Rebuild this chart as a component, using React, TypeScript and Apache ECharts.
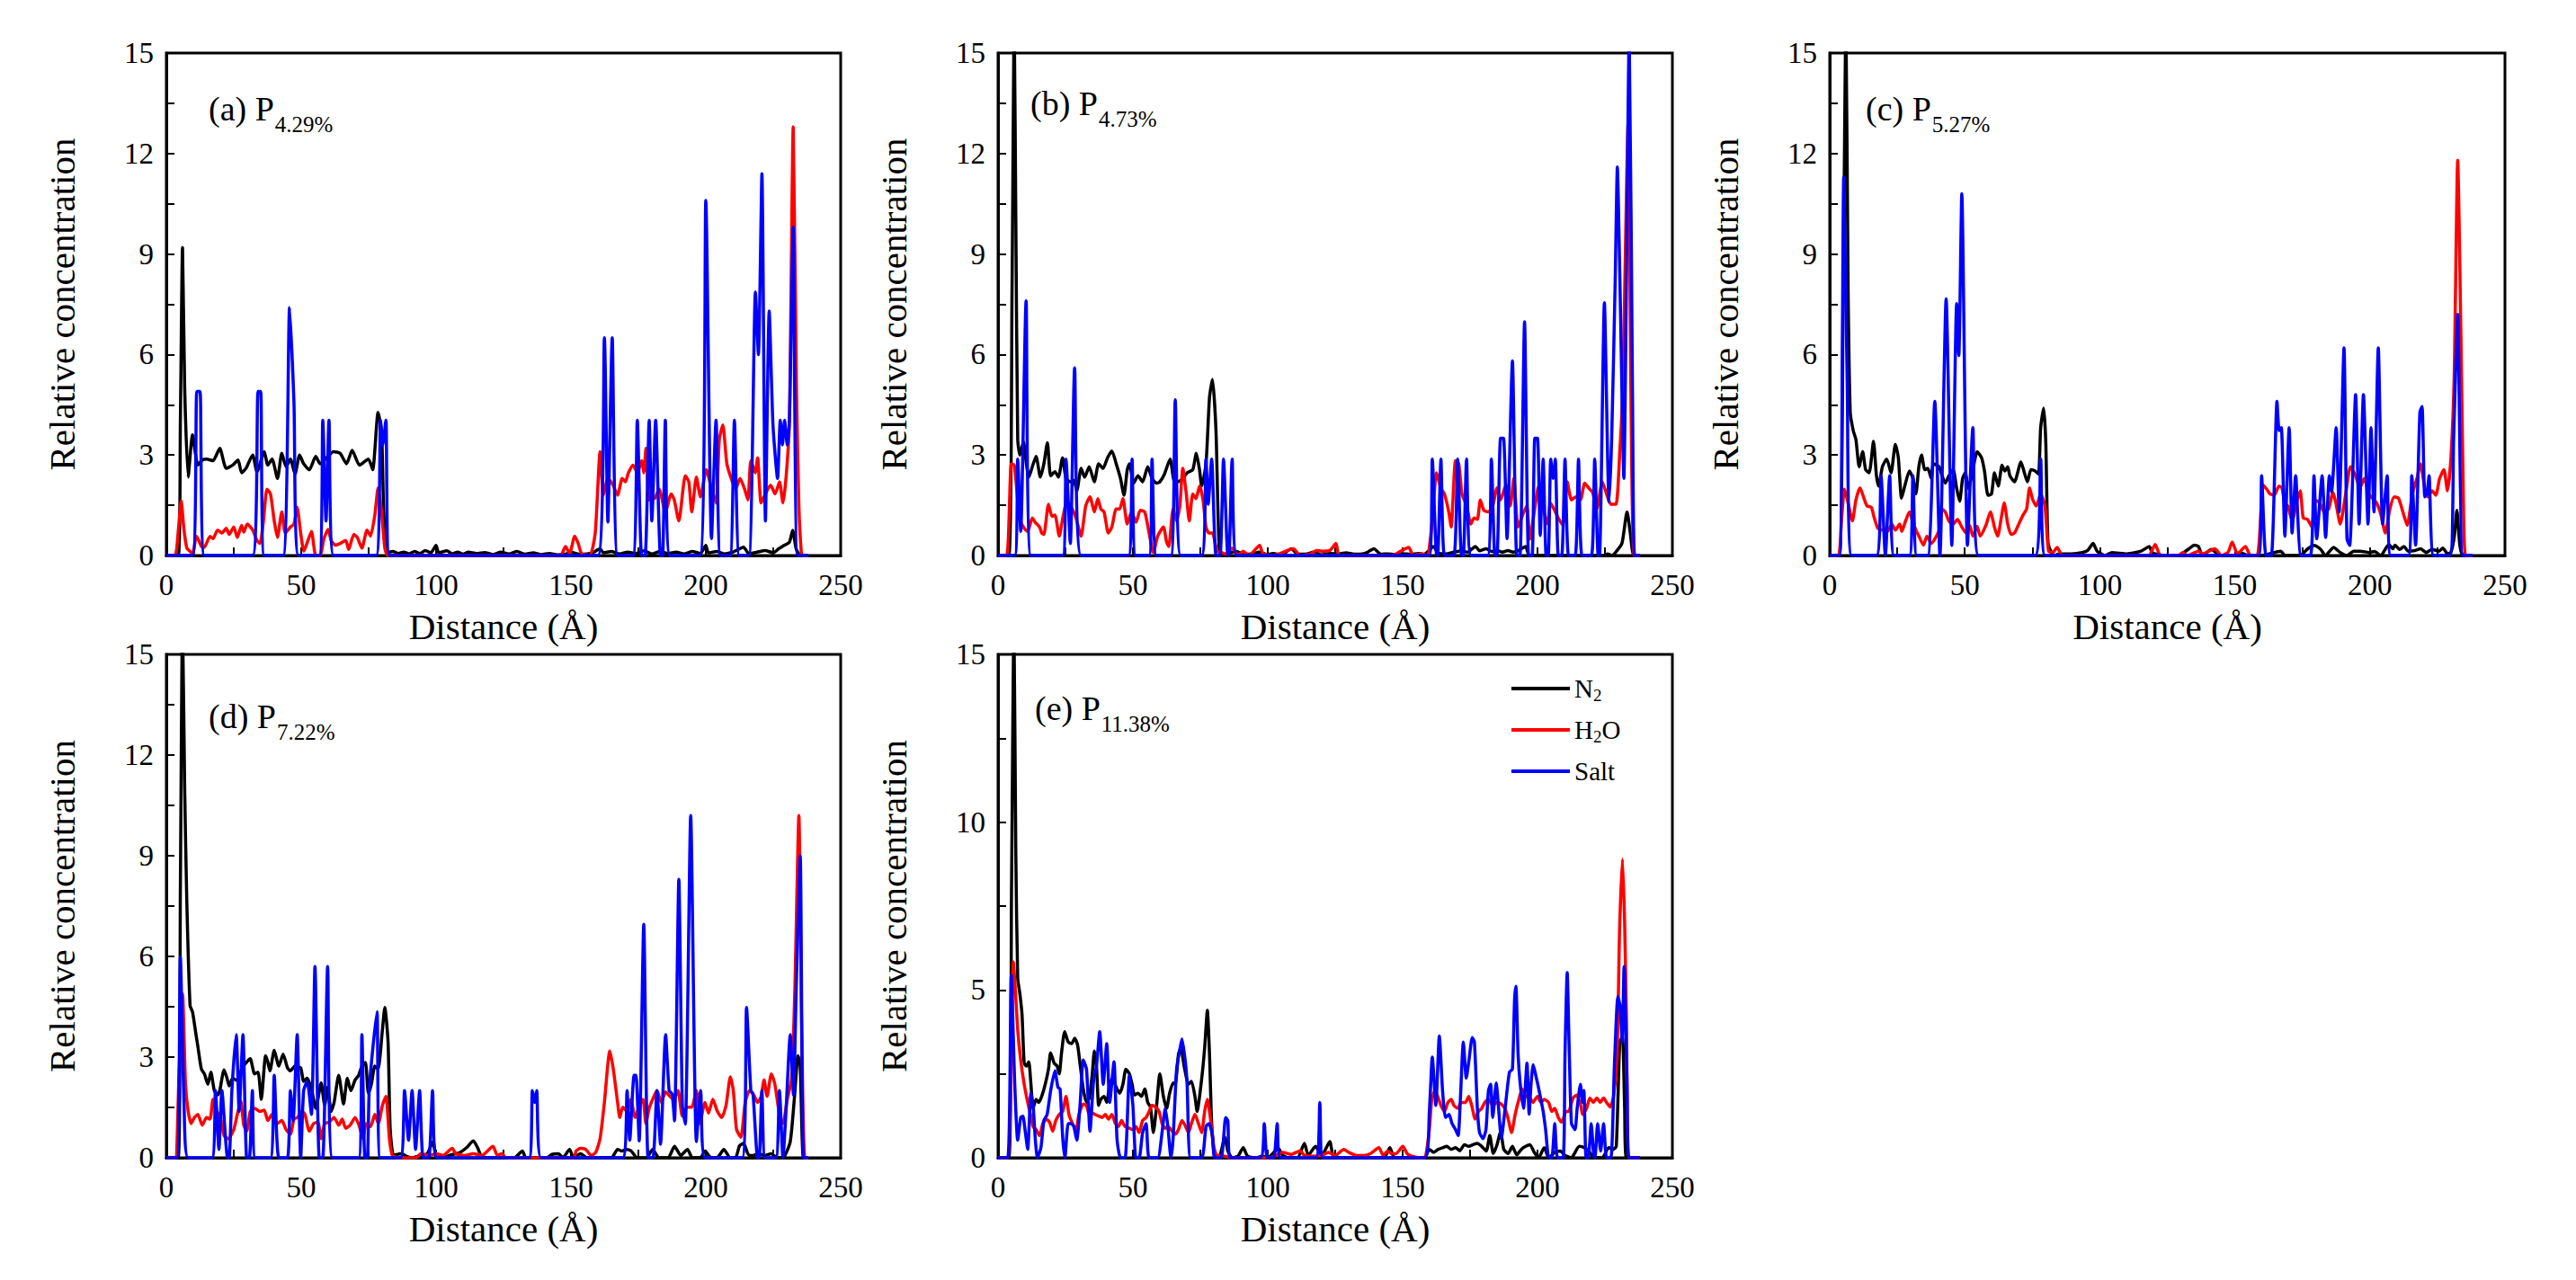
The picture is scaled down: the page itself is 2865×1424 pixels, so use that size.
import { useEffect, useRef } from 'react';
import * as echarts from 'echarts';

const FONT = 'Liberation Serif';

const seriesNames = ['N2', 'H2O', 'Salt'];
const seriesColors = ['#000000', '#ff0000', '#0000ff'];
const panelTags = ['(a) P', '(b) P', '(c) P', '(d) P', '(e) P'];
const panelSubs = ['4.29%', '4.73%', '5.27%', '7.22%', '11.38%'];
const yIntervals = [3, 3, 3, 3, 5];

// flat [distance, concentration] pairs
const n2A = [0,0, 4.4,0, 5.2,4, 6,9.2, 6.8,5, 8.1,2.34, 9.7,3.6, 11.7,2.7, 13.3,2.85, 14.9,2.88, 17.3,2.83, 19.8,3.2, 22.2,2.6, 24.6,2.7, 26.6,2.85, 27.9,2.47, 29.5,2.6, 32,3.0, 33.6,2.5, 36.3,3.1, 37.6,2.7, 39.2,2.88, 41.2,2.3, 42.8,3.05, 44.4,2.65, 46,2.88, 47.7,2.43, 49.4,3.0, 50.9,2.74, 53,2.56, 55.4,2.96, 57,2.74, 62,3.1, 64.4,3.05, 66.8,2.74, 68.9,3.14, 71.6,2.7, 74.9,2.88, 76.5,2.56, 78.5,4.27, 79.8,3.7, 80.6,1.3, 82,0.09, 84,0.12, 86,0.06, 88,0.1, 90,0.05, 92,0.12, 94,0.06, 96,0.15, 98,0.08, 100,0.3, 101,0.08, 104,0.14, 106,0.05, 108,0.1, 110,0.04, 112,0.1, 115,0.06, 118,0.09, 121,0.03, 124,0.1, 127,0.05, 130,0.12, 133,0.04, 136,0.08, 139,0.03, 142,0.06, 145,0.02, 148,0.04, 150,0.1, 153,0.04, 156,0.05, 158,0.08, 160.8,0.2, 162,0.08, 165,0.12, 168,0.05, 171,0.1, 174,0.06, 177,0.14, 180,0.05, 183,0.12, 186,0.06, 189,0.1, 192,0.05, 195,0.12, 198,0.06, 200,0.3, 201,0.08, 204,0.12, 207,0.05, 210,0.1, 214,0.25, 216,0.05, 219,0.1, 222,0.15, 225,0.08, 227,0.2, 229,0.3, 231,0.4, 232.2,0.75, 233.5,0.2, 235,0, 238,0];
const h2oA = [0,0, 3.2,0, 4.5,0.8, 5.5,1.64, 6.5,0.8, 7.6,0.22, 8.7,0.13, 9.7,0.05, 11.2,0.58, 13,0.27, 14,0.24, 16.2,0.57, 17.3,0.5, 19,0.76, 20.6,0.67, 22.2,0.81, 23.3,0.63, 25,0.85, 26.3,0.54, 27.9,0.9, 28.7,0.7, 30,0.94, 32,0.76, 33.6,0.45, 34.7,0.36, 36,1.03, 37.3,1.98, 38.6,1.84, 40,1.03, 41.2,0.54, 42.8,1.3, 44.1,0.67, 46,0.85, 47.3,0.94, 48.5,1.44, 49.8,0.67, 51,0.13, 52.3,0.4, 53.8,0.72, 55.4,0, 57,0, 58.4,0.5, 60,0.78, 61.1,0.45, 62.7,0.31, 64.4,0.36, 66.5,0.45, 67.6,0.18, 69.5,0.63, 70.8,0.54, 72.5,0.22, 74.4,0.76, 75.7,0.58, 77.3,1.21, 78.5,2.02, 79.8,1.3, 81,0.22, 82.2,0, 146,0, 148,0.27, 149.5,0.05, 151.4,0.58, 152.7,0.36, 154,0.05, 157,0, 159,0.67, 160.8,3.1, 162,1.8, 163.7,2.3, 165.6,2.1, 167.3,1.8, 169,2.3, 170.2,2.2, 171.3,2.47, 173,2.7, 174.6,2.47, 176.2,2.83, 177,2.47, 177.8,3.2, 179,1.66, 181,1.7, 182.7,1.98, 185,1.3, 187.2,1.84, 188.3,1.66, 190,1.03, 192.4,2.38, 193.7,2.2, 194.8,1.3, 196.5,2.34, 198,1.75, 200.2,2.56, 202.1,2.0, 203.8,1.57, 205,3.46, 206.3,3.9, 207.8,2.74, 209.4,2.3, 211,1.98, 212.7,2.3, 214.3,2.0, 215.6,1.66, 216.7,2.83, 218.3,2.47, 219.2,2.92, 220.5,1.57, 222.1,1.84, 224,2.1, 225.7,1.84, 227.3,2.2, 228.6,1.57, 229.8,2.38, 231,4.0, 232.4,12.8, 233.6,5, 234.5,1.5, 235.4,0.1, 236,0, 238,0];
const saltA = [0,0, 9.7,0, 11.3,4.9, 12.5,4.9, 14.1,0, 32,0, 34,4.9, 35,4.9, 36.3,0, 43.3,0, 45.7,7.4, 47.3,4.6, 49,0, 56.7,0, 58,4.04, 59.2,1.03, 60.3,4.04, 62,0, 77.8,0, 79.4,4.04, 80.2,3.28, 81.4,4.04, 82.7,0, 160,0, 162.4,6.5, 163.7,1.0, 165.3,6.5, 167.3,0, 173,0, 174.6,4.04, 176.2,0, 177.5,0, 179,4.04, 180,1.03, 181.4,4.04, 183.2,0, 184,0, 185,4.04, 186.7,0, 197.8,0, 200,10.6, 202.1,0.5, 203.8,4.04, 205.4,0, 209,0, 210.6,4.04, 212.4,0, 216,0, 218.4,7.86, 219.5,6.0, 220.8,11.4, 222.1,1.03, 223.5,7.3, 224.9,3.9, 226.6,2.3, 227.6,4.04, 228.4,3.3, 229.2,4.04, 230.2,3.3, 231,4.04, 232.4,9.8, 234,0, 238,0];

const n2B = [0,0, 4,0, 5.2,8, 6,16, 6.6,10, 7.3,3.46, 8.1,3.0, 9.4,3.4, 10.5,2.74, 11.4,2.34, 12.7,2.65, 14.1,2.96, 15.7,2.34, 17,2.74, 18.3,3.37, 19.5,2.38, 21.1,2.5, 22.4,2.34, 23.9,2.92, 25.2,2.3, 26.8,2.2, 28.1,2.25, 29.2,1.93, 30.8,2.6, 32.1,2.34, 33.8,2.65, 35.7,2.2, 37.3,2.74, 38.9,2.6, 40.6,2.92, 42.2,3.12, 43.8,2.74, 45.4,2.3, 46.7,1.8, 47.9,2.56, 48.7,2.74, 50.3,2.16, 51.9,2.38, 53.6,2.2, 55.5,2.65, 57.1,2.3, 58.8,2.16, 60,2.2, 61.7,2.43, 63.8,2.88, 65.4,2.2, 66.5,2.2, 68.5,2.3, 70.1,2.47, 72.2,2.56, 73.5,3.05, 74.7,2.56, 75.5,2.07, 77.1,2.74, 78.4,4.72, 79.5,5.26, 80.8,3.73, 82,0.22, 83.5,0, 86,0.08, 88.5,0.12, 91,0.04, 94,0.05, 97,0.1, 100,0.03, 102,0.06, 105,0.02, 108.7,0.2, 111,0.05, 114,0.04, 117,0.1, 120,0.02, 123,0.06, 126.6,0.05, 129,0.08, 132,0.04, 135,0.05, 137,0.1, 139.3,0.2, 142,0.04, 144.5,0.05, 147,0.03, 150,0.05, 153,0.04, 156,0.06, 158,0.04, 161.5,0.27, 163,0.08, 166,0.05, 169,0.1, 172,0.14, 174,0.1, 177,0.27, 178.5,0.14, 181,0.2, 183,0.12, 185,0.15, 187,0.1, 189,0.15, 191,0.1, 193,0.15, 195.6,0.27, 197,0, 225,0, 226,0.05, 227.5,0, 229,0.1, 231.3,0.36, 233.2,1.3, 234.4,0.67, 235.7,0, 238,0];
const h2oB = [0,0, 3.2,0, 4.9,2.74, 6,2.7, 7.3,1.66, 8.4,1.03, 9.7,0.81, 11,0.72, 12.7,1.12, 13.8,0.99, 15.4,0.85, 16.2,0.67, 17,0.63, 18.7,1.53, 20,1.17, 21.1,1.21, 22.7,0.58, 24,1.12, 25.6,1.62, 27.2,1.44, 28.9,1.12, 30.8,0.58, 32.5,1.48, 34.1,1.75, 35.7,1.3, 37,1.7, 38.1,1.39, 39.3,1.3, 40.9,0.67, 42.2,0.85, 43.8,1.39, 45.1,1.39, 46.3,1.7, 47.9,0.94, 49.5,1.3, 51.2,0.99, 52.7,1.35, 54.4,1.3, 56,0.67, 57.6,0.09, 59.2,0.58, 61.3,0.85, 62.5,0.4, 63.3,0.27, 64.9,1.39, 66.2,1.03, 67.4,1.48, 68.5,2.6, 69.8,1.84, 70.9,1.03, 72.2,1.84, 73.4,1.7, 74.7,2.07, 76,1.66, 77.1,0.85, 78.2,0.67, 79.5,0.67, 81.2,0.13, 82.8,0.09, 84.4,0.05, 86.8,0.22, 89,0, 90.9,0.13, 93,0, 97,0.3, 98.2,0.05, 102,0, 109.5,0.2, 112,0, 116,0.05, 118.1,0.15, 120,0.13, 123,0.15, 125.3,0.36, 126.6,0, 146,0, 148.5,0.09, 152.2,0.24, 154,0, 157,0.05, 159,0, 160.7,0.8, 162.6,2.47, 164.2,2.0, 165.5,1.84, 167.1,1.3, 168,0.85, 169.6,2.83, 170.8,2.74, 172,1.84, 173.7,1.48, 175.3,0.94, 176.5,1.12, 177.7,1.08, 178.8,1.66, 180.1,1.35, 181.8,1.3, 183.4,1.48, 185,2.02, 186.3,1.66, 188.3,2.11, 189.9,1.48, 191.2,2.3, 192.8,0.85, 194.5,1.21, 196,1.48, 197.2,0.49, 198.8,1.3, 200.4,2.07, 202.1,1.39, 203.7,0.94, 204.8,1.57, 206.1,1.39, 207.7,1.12, 209.4,0.9, 211,2.2, 212.6,1.66, 214.2,1.75, 215.9,1.66, 217.5,2.16, 219.1,2.0, 220.4,1.89, 222,1.39, 224,2.2, 225.6,1.84, 227.2,1.53, 229.1,1.53, 230.5,3.1, 231.6,4.9, 233.6,12.9, 234.6,5, 235.8,0, 238,0];
const saltB = [0,0, 6.2,0, 7.3,2.88, 8.4,0.72, 10.4,7.6, 12.2,0, 24,0, 25.2,2.88, 26.8,0.36, 28.4,5.6, 30.8,0, 48.4,0, 49.7,2.88, 51,0, 56,0, 57.1,2.88, 58.7,0, 64.1,0, 65.7,4.65, 67.7,0, 75.5,0, 77.1,2.88, 77.9,1.53, 79.2,2.88, 80.8,0, 82.3,0, 83.6,2.88, 85.2,0, 85.6,0, 86.8,2.88, 88.5,0, 159.9,0, 161,2.88, 162.6,0, 163,0, 164.2,2.88, 165.5,0, 169,0, 170.4,2.88, 171.8,0, 172.5,0, 173.7,2.88, 175.3,0, 181.5,0, 182.9,2.88, 184.2,0, 185,0, 186.3,3.5, 187.4,3.5, 188.7,0.5, 190.7,5.81, 192.3,0, 193.5,0, 195.2,6.98, 196.7,0, 198,0, 199,3.5, 200,3.5, 201,0.6, 202.1,2.88, 203.2,0, 204,0, 204.9,2.88, 205.8,2.3, 206.6,2.88, 207.7,0, 209,0, 210.2,2.88, 211.5,0, 214,0, 215.2,2.88, 216.5,0, 220,0, 221.2,2.88, 222.5,0, 223,0, 224.8,7.55, 226.5,1.6, 227.5,3.5, 228.8,8.2, 229.6,11.6, 230.6,8, 232,2.3, 234,15.5, 235.2,5, 236,0, 238,0];

const n2C = [0,0, 3.6,0, 5,8, 6,16, 6.8,8, 7.6,4.27, 8.7,3.73, 9.7,3.46, 10.9,2.65, 12.2,3.1, 13.3,2.56, 14.6,2.47, 16.2,3.41, 17.3,2.38, 18.1,2.07, 19.5,2.65, 21.1,2.88, 22.7,2.47, 24.3,3.32, 25.4,2.92, 26.6,1.71, 27.9,2.11, 29.5,2.52, 30.8,2.3, 31.9,1.84, 33,2.65, 34,3.0, 35.2,2.56, 36.3,2.6, 37.6,2.3, 38.4,2.74, 40.5,2.65, 41.6,2.38, 42.8,2.16, 44.1,2.38, 45.7,2.56, 47,2.0, 48.1,1.62, 49.2,2.3, 50.2,2.47, 51.4,2.0, 53,2.56, 54.6,3.1, 56.2,2.92, 57.3,2.52, 58.6,1.8, 59.9,1.84, 61,2.47, 62.4,2.07, 63.8,2.7, 64.8,2.52, 65.9,2.65, 66.7,2.38, 68.4,2.2, 70.8,2.79, 71.9,2.52, 73.2,2.2, 74.5,2.56, 76.1,2.52, 77.3,2.43, 78.1,3.82, 79.2,4.4, 80,3.37, 80.8,0.4, 82.1,0.09, 83.3,0, 85,0.05, 89.5,0.05, 93.5,0.09, 95.5,0.15, 97.5,0.36, 99,0.13, 102,0, 104.5,0.09, 110,0.05, 115.3,0.13, 118.3,0.27, 119.4,0.09, 123.5,0, 129,0, 133,0.2, 135,0.31, 136.5,0.27, 138,0, 141.3,0.18, 144.5,0, 149.5,0, 152,0.09, 155,0, 160,0, 167,0.13, 168.5,0, 174,0, 177,0.2, 179.3,0.3, 181.8,0.18, 183.5,0, 186.6,0.24, 189,0.09, 191.5,0, 194,0.13, 196.5,0.13, 199.6,0.09, 201.7,0.12, 204,0, 207,0.33, 208.5,0.2, 209.3,0.31, 211,0.18, 212.6,0.27, 214.2,0.13, 216.7,0.15, 218.8,0.2, 220.8,0.09, 223,0.18, 225.6,0.13, 227,0.22, 228.8,0.05, 230,0.1, 231.3,0.6, 232.2,1.35, 233.3,0.3, 234.5,0, 238,0];
const h2oC = [0,0, 3.2,0, 4.3,1, 5.5,1.98, 6.8,1.57, 8.4,1.03, 9.7,1.66, 11.2,2.02, 12.5,1.75, 13.8,1.48, 15.4,1.44, 16.5,1.12, 17.8,0.81, 19.4,0.76, 21.4,0.72, 23,0.94, 24.3,0.76, 25.9,0.94, 26.7,0.72, 27.9,0.99, 29.5,1.3, 30.8,0.99, 31.9,0.76, 33,0.58, 34.7,0.31, 36,0.58, 37.6,0.36, 38.9,0.49, 40.5,0.76, 41.6,1.39, 42.8,1.3, 44.1,1.03, 45.7,0.94, 47.3,1.08, 48.9,0.85, 50.5,0.67, 51.8,0.9, 53,0.58, 54.6,0.87, 55.7,0.58, 57.8,0.9, 59.5,1.3, 61.1,0.81, 62.2,0.58, 63.5,1.12, 64.6,1.57, 65.9,0.94, 67.1,0.63, 68.4,0.67, 70,0.94, 71.6,1.21, 72.9,1.39, 74,2.02, 75.2,1.66, 76.5,1.48, 78.1,1.84, 79.7,1.48, 81,0.13, 82.6,0.09, 84.2,0.24, 86.2,0, 118,0, 120.5,0.33, 122.5,0, 129,0, 130.7,0.09, 132.5,0, 136.5,0.13, 138,0.05, 142.6,0.2, 145,0, 147.5,0.1, 149,0.4, 151,0.05, 153.9,0.27, 155.8,0, 158.2,0, 159,0.4, 160.5,2.1, 161.8,1.98, 163,1.84, 164.6,1.8, 166.3,2.07, 167.4,2.02, 168.5,1.57, 169.6,1.48, 171.2,1.03, 172.8,1.57, 174.2,1.93, 175.3,1.12, 176.9,1.08, 178.5,0.85, 179.8,1.66, 181.4,1.57, 183,1.3, 184.7,1.39, 186.3,1.89, 187.4,1.57, 189,0.94, 191.2,1.93, 192.8,2.65, 194.7,2.38, 196.3,2.02, 197.9,2.3, 199.6,1.84, 200.9,1.71, 202.5,1.57, 204.1,1.21, 205.7,0.67, 207.4,1.39, 209,1.75, 210.6,1.71, 212.2,1.3, 213.8,0.9, 215.7,1.84, 217.4,2.3, 218.7,2.74, 220.3,2.02, 221.4,1.75, 223,1.93, 224.4,1.8, 225.8,2.3, 227.4,2.56, 228.7,1.93, 230,2.92, 231.2,5.35, 232.5,11.8, 233.8,6, 234.5,2.2, 235.4,0, 238,0];
const saltC = [0,0, 3.6,0, 5.2,11.3, 6.5,5, 8.1,0, 17.3,0, 19,2.38, 20.6,0, 22.2,2.38, 23.8,0, 29.5,0, 30.8,2.38, 32.2,0, 36.3,0, 38.9,4.6, 40.8,0, 43.1,7.66, 45.2,0.3, 47,7.52, 47.8,5.97, 48.9,10.8, 51,0.3, 53,3.82, 55.1,0, 76.1,0, 78.1,2.88, 79.7,0, 158.8,0, 159.9,2.38, 161.5,0, 163.5,0, 165.6,4.6, 166.4,3.73, 167.2,3.82, 168.5,0.58, 170.1,3.82, 171.2,0.67, 172.5,2.38, 174.5,0, 178,0, 179.3,2.38, 180.3,0.5, 182.3,2.38, 183.6,0.54, 185,2.38, 185.8,1.9, 187.5,3.82, 188.6,1.3, 190.4,6.2, 191.5,0.49, 192.5,0.3, 194.7,4.8, 196,0.94, 197.6,4.8, 199.3,0.94, 200.4,3.82, 201.5,1.3, 203.1,6.2, 204.7,0.94, 206.4,2.38, 207.7,0, 214.2,0, 215.5,2.38, 216.9,0.31, 218.5,4.27, 219.3,4.45, 220.3,1.75, 221.1,1.84, 221.9,2.38, 223.6,0, 229.6,0, 231,3.5, 232.5,7.2, 234.4,0, 238,0];

const n2D = [0,0, 4.4,0, 5.2,8, 6,16, 6.8,11, 7.6,7.6, 8.8,4.53, 9.7,4.35, 10.9,3.72, 11.7,3.31, 13,2.64, 14.1,2.5, 15.4,2.19, 16.5,2.55, 17.8,2.0, 19,1.87, 19.8,2.0, 21.4,2.62, 22.5,2.37, 23.3,2.14, 24.6,2.37, 26.6,2.28, 27.9,2.64, 29.5,2.82, 31.1,2.95, 32.7,2.5, 34,2.55, 35.2,1.74, 36.8,3.04, 37.6,2.86, 38.4,2.59, 40,3.2, 41.7,2.73, 43.3,3.09, 44.9,2.68, 46,2.59, 47.7,2.73, 49.8,2.68, 50.9,2.28, 52.2,2.37, 53.8,2.05, 55.4,1.47, 57.4,2.23, 58.7,1.56, 59.8,2.1, 61.1,1.38, 62.2,1.65, 63.9,2.46, 65.7,1.6, 67.1,2.37, 68.4,2.0, 70,2.32, 71.3,2.46, 72.5,2.73, 73.8,2.84, 74.9,1.92, 76,2.19, 77.3,2.73, 78.5,2.64, 80.1,3.81, 81,4.48, 82.2,3.45, 83,0.84, 84.3,0.07, 87,0.12, 89.5,0.03, 91,0, 94.3,0.07, 96.7,0.12, 98.9,0.48, 100,0.03, 102.5,0, 104.9,0.07, 108.9,0.16, 111.3,0.3, 113.8,0.5, 115.4,0.3, 117,0.03, 122,0, 129,0, 132,0.2, 133.3,0, 141,0, 143,0.1, 145.4,0.12, 147,0, 149.5,0.25, 151,0, 153.5,0.12, 156,0, 165,0, 167.3,0.25, 168.9,0.2, 170.5,0.25, 172.2,0.21, 174.6,0, 178,0, 180.3,0.25, 182.6,0, 186,0, 188.4,0.34, 190.7,0.07, 193.2,0.25, 195,0, 198,0, 199.7,0.2, 202,0, 204,0, 205,0.07, 206.7,0.25, 209,0, 211,0, 212.5,0.36, 214,0.43, 216,0.07, 217.7,0.07, 219.4,0.12, 221.8,0.07, 224.3,0.12, 226.5,0, 229,0.03, 231.3,0.48, 232.8,1.74, 234.2,3.04, 235,2.73, 236.2,0, 238,0];
const h2oD = [0,0, 3.2,0, 4.7,2.5, 6,4.89, 7.1,2.19, 8.1,1.38, 9.2,1.02, 10.4,1.2, 11.7,1.29, 13.3,0.97, 14.9,1.2, 16.2,1.15, 17.3,1.74, 18.6,1.38, 19.8,1.29, 21.4,0.66, 23,0.57, 25,0.84, 26.3,1.29, 27.6,1.69, 28.7,0.97, 29.8,0.79, 31.1,1.38, 32.7,1.47, 34.7,1.38, 36.3,1.42, 37.6,1.11, 39.2,1.29, 41.2,1.02, 42.8,1.11, 44.4,0.84, 46,0.7, 47.3,1.15, 48.6,1.2, 50.3,1.38, 51.4,1.29, 53,0.79, 54.6,1.02, 56.2,1.06, 57.4,0.57, 58.7,1.02, 60.3,1.06, 62.2,1.2, 63.9,0.97, 65.2,1.15, 66.5,0.88, 68.1,0.97, 70,1.2, 71.6,0.93, 72.9,0.57, 74.1,1.02, 75.7,0.93, 77.3,1.29, 78.6,1.02, 80.1,1.56, 81.4,1.83, 82.7,0.57, 83.8,0.07, 86,0, 92.7,0, 94.3,0.12, 97.5,0.07, 100,0.12, 102.5,0.07, 106,0.28, 107.3,0.12, 110.5,0.07, 113.8,0.12, 117,0.07, 121.1,0.34, 122.7,0.07, 124.3,0.12, 126,0, 151,0, 151.9,0.2, 153.5,0.28, 155.5,0.25, 157.5,0.07, 159.2,0.16, 160.8,0.57, 162.4,1.65, 164.4,3.18, 165.7,2.64, 167.3,1.65, 168.1,1.2, 169.2,1.51, 170.8,1.38, 172.2,1.74, 173.8,1.2, 175.4,1.56, 176.7,1.74, 177.8,1.02, 179,1.47, 180.3,1.74, 181.9,2.0, 183.5,1.65, 185.1,1.96, 186.7,1.83, 188.1,1.74, 189.7,2.0, 191.3,1.24, 193.2,1.51, 194.8,1.51, 196.5,2.0, 197.8,1.02, 199.7,1.65, 201,1.33, 202.6,1.74, 204.3,1.38, 205.9,1.2, 207.5,1.56, 209.1,2.41, 210.2,2.0, 211.4,0.84, 213,0.61, 214.6,1.65, 216.2,2.0, 217.8,1.87, 219.2,1.65, 220.5,1.83, 221.6,2.32, 222.7,1.83, 224.3,2.5, 225.6,2.19, 227.3,1.29, 228.6,1.02, 230.2,1.74, 231.8,2.37, 233,5, 234.5,10.2, 235.5,4, 236.7,0, 238,0];
const saltD = [0,0, 3.9,0, 5.2,5.97, 6.6,1.5, 8.1,0, 16.9,0, 18.2,2.0, 19.5,0.25, 20.6,2.0, 22.7,0, 23.3,0, 24.3,2.0, 25.9,3.67, 27,1.38, 28.4,3.67, 29.8,0, 30.8,0, 31.9,2.0, 33,0, 38.6,0, 40,2.46, 41.7,0, 44.9,0, 46,2.0, 47,1.1, 48.5,3.67, 49.8,0, 50.9,2.0, 52.2,2.28, 53.8,1.29, 55.1,5.7, 56.7,0, 58,0, 59.8,5.7, 61.6,0, 71.3,0, 72.5,3.67, 73.6,0, 74.5,0, 75.2,2.0, 76.5,3.22, 78.1,4.35, 79.3,0, 86.8,0, 88.3,2.0, 89.8,0.52, 91.1,2.0, 92.4,0.25, 93.9,2.0, 95.2,0, 97.3,0, 98.7,2.0, 100.3,0, 134.5,0, 135.7,2.0, 136.5,1.65, 137.3,2.0, 138.9,0, 169.2,0, 170.8,2.0, 171.8,0.52, 173.4,2.46, 174.1,2.46, 175.3,0.5, 177,6.96, 178.6,0, 180.4,0, 181.9,2.0, 183.2,0.4, 185.1,3.67, 186.4,2.0, 187.5,1.9, 188.4,1.1, 190,8.3, 191.3,1.56, 192.4,1.0, 194.4,10.2, 196.5,0.48, 198.1,2.0, 199.7,0, 213.5,0, 215.1,4.48, 216.7,2.0, 217.5,1.9, 219.2,0, 219.8,0, 220.8,2.0, 222,0, 226,0, 227.3,2.0, 228.6,0, 229.8,1.5, 231.3,3.67, 232.5,1.87, 233.5,5, 235,9.0, 236.2,0, 238,0];

const n2E = [0,0, 4,0, 5,8, 5.9,16, 6.6,9, 7.3,5.34, 8.1,4.89, 8.9,4.26, 9.7,2.82, 10.5,2.73, 11.4,2.86, 12.2,2.19, 13,1.47, 14.1,1.74, 15.1,1.65, 16.2,1.83, 17.5,2.19, 18.7,2.64, 19.5,3.13, 20.8,2.82, 21.9,2.73, 22.7,2.5, 23.5,3.09, 24.7,3.76, 26,3.45, 27.3,3.4, 28.4,3.56, 29.5,3.36, 30.5,2.73, 31.6,2.05, 32.8,1.65, 33.8,1.78, 34.9,2.46, 35.7,3.18, 36.5,2.73, 37.3,1.56, 38.1,1.74, 39.3,1.83, 40.3,1.65, 41.4,2.19, 42.5,2.37, 43.8,2.1, 45.1,1.92, 46.3,2.19, 47.4,2.64, 48.7,2.5, 49.7,2.19, 50.6,1.87, 51.9,1.92, 53.2,1.83, 54.4,2.05, 55.5,1.65, 56.5,1.51, 57.6,0.75, 58.7,1.47, 60,2.5, 61.3,1.83, 62.5,1.47, 63.6,1.92, 64.9,2.23, 65.7,2.19, 66.9,3.09, 67.8,3.27, 69,2.73, 70.6,2.19, 71.7,2.28, 73,1.83, 73.8,1.38, 75.4,2.28, 76.6,3.27, 77.6,4.39, 78.4,3.09, 79.2,1.02, 80.3,0.07, 82,0.05, 84.1,0.61, 85.2,0.2, 86.8,0, 89,0.05, 90.9,0.3, 92.5,0.05, 95.5,0, 98,0.05, 100,0, 103.9,0.28, 105.5,0.07, 108,0, 111,0, 113.6,0.43, 115,0.07, 117.7,0.34, 120,0.07, 123,0.48, 124.2,0.07, 126.5,0, 143,0, 145.3,0.3, 147,0, 158,0, 159.9,0.25, 161.5,0.16, 163.2,0.25, 164.8,0.3, 166.4,0.34, 168,0.25, 169.6,0.3, 171.2,0.21, 172.9,0.39, 174.5,0.34, 176.1,0.39, 177.7,0.43, 179.3,0.34, 181,0.2, 182.3,0.66, 183.6,0.13, 185,0.39, 186.3,0.79, 187.5,0.25, 189.1,0.13, 190.7,0.34, 192.3,0.09, 194,0.25, 195.6,0.34, 197.2,0.39, 198.8,0.16, 200.4,0, 202.5,0.3, 204.2,0, 206.4,0.16, 208.5,0.2, 210.2,0.07, 212.5,0, 215.5,0.34, 217.4,0.3, 219,0.2, 221,0, 224,0, 226.4,0.3, 228,0.25, 229.2,0.34, 230.5,3.45, 231.5,3.6, 232.3,1.5, 233,0, 238,0];
const h2oE = [0,0, 3.6,0, 5.7,5.83, 6.5,4.89, 7.3,3.81, 8.4,2.91, 9.7,2.19, 11,1.65, 12,1.29, 13,0.93, 14.1,0.84, 15.4,0.66, 16.6,1.02, 17.9,1.15, 19.1,1.06, 20.3,0.79, 21.4,1.11, 22.7,1.29, 24,1.38, 25.2,1.83, 26.3,1.29, 27.6,1.02, 28.9,0.84, 30,1.29, 31.6,1.6, 32.8,1.56, 33.8,1.29, 34.9,1.33, 36,1.29, 37.3,1.24, 38.6,1.2, 39.8,1.29, 40.9,1.15, 42.2,1.29, 43.5,1.02, 44.6,0.93, 45.8,1.11, 47.1,0.93, 48.7,0.88, 50,0.84, 51.1,0.93, 52.3,0.75, 53.6,1.11, 54.9,1.2, 56,1.38, 57.1,1.56, 58.4,1.51, 59.7,1.38, 60.8,1.02, 62,0.88, 63,0.93, 64.6,0.79, 65.7,0.7, 66.9,0.84, 68.2,1.11, 69.3,0.97, 70.6,0.75, 71.7,1.02, 73,1.29, 74.3,1.02, 75.5,0.75, 76.6,1.38, 77.6,1.74, 78.7,1.2, 79.9,0.39, 81.2,0.07, 84,0.05, 86,0, 100.6,0, 103,0.07, 105.5,0.16, 108.7,0.1, 112,0.21, 113.6,0.07, 117,0.05, 120,0.07, 122.5,0.16, 125,0.07, 128.2,0.25, 130,0.16, 133,0.07, 135.5,0.07, 138,0.12, 141.2,0.3, 142.8,0.07, 144.5,0.2, 146,0.12, 147.5,0.12, 150.1,0.34, 151.7,0.12, 153.3,0.05, 156.6,0, 158.2,0, 159.9,0.84, 160.8,1.74, 162,2.0, 163,1.83, 164.2,1.56, 165.5,1.38, 166.8,1.65, 168,1.74, 169,1.56, 170.4,1.47, 171.7,1.65, 173.3,1.65, 174.5,1.83, 175.6,1.56, 176.9,1.15, 178.1,1.38, 179.3,1.47, 180.5,1.65, 181.8,1.74, 183.4,1.56, 185,1.65, 186.6,1.6, 187.9,1.47, 189,1.2, 190.4,0.75, 191.7,1.29, 193.1,1.74, 194.3,2.05, 195.6,1.83, 197.2,1.78, 198.3,1.65, 200,1.83, 201.3,1.65, 202.5,1.74, 204.1,1.65, 205.3,1.38, 206.4,1.47, 207.7,1.2, 209,1.06, 210.6,1.38, 211.5,1.38, 213.2,1.78, 214.5,1.87, 216,1.56, 216.7,1.29, 218.2,1.47, 219.4,1.78, 220.7,1.65, 222,1.78, 223.2,1.65, 224.5,1.78, 225.6,1.65, 226.9,1.51, 228.2,1.83, 229.5,3, 230.4,6.7, 231.5,8.9, 232.3,7, 233,4, 234,0, 238,0];
const saltE = [0,0, 3.6,0, 4.9,5.43, 6.2,2.19, 7.3,0.52, 8.4,1.2, 9.2,1.24, 10,0.84, 11,0.25, 12.2,1.92, 13,1.56, 13.8,0.57, 14.6,0, 15.9,0.3, 17,1.11, 18.2,1.29, 19.5,2.0, 21.1,2.59, 22.2,2.1, 23,2.05, 24,0.57, 24.8,0, 26,1.02, 27.1,1.02, 28.1,0.93, 29.2,0.52, 30.4,1.56, 31.6,2.91, 32.8,2.64, 34.1,0.79, 35.4,2.28, 36.5,2.73, 37.7,3.76, 39,2.19, 40.3,3.4, 41.4,1.65, 43,2.86, 44.1,0.57, 45.4,0, 47.1,0, 48.7,2.46, 50,1.56, 51.1,0, 52.3,0, 53.6,0.75, 54.9,1.02, 56,0, 59.2,0, 60.8,0.75, 62,1.47, 63,0.9, 64.1,0, 64.9,0.57, 66.2,2.64, 67.4,3.22, 68.2,3.54, 69.5,2.82, 70.1,2.19, 71.4,0, 75.5,0, 77.1,0.93, 78.2,1.02, 79.5,0.66, 80.3,0, 82.7,0, 84.4,1.2, 85.2,1.1, 86,0, 97.3,0, 98.7,1.02, 99.8,0, 102.2,0, 103.5,1.02, 104.7,0, 117.8,0, 119.3,1.65, 120.4,0, 158.2,0, 159.9,1.38, 161,3.0, 162.3,1.56, 163.6,3.63, 164.8,2.0, 165.9,1.2, 167.2,1.29, 168.3,1.02, 169.6,0.84, 170.6,0.66, 171.4,1.74, 172.5,3.45, 173.6,2.37, 174.6,2.91, 175.8,3.58, 176.6,3.45, 177.7,1.47, 178.5,0.75, 179.8,0.57, 180.9,0.84, 181.8,2.0, 182.6,2.19, 183.4,1.2, 184.7,2.23, 185.4,1.65, 186.6,0.57, 187.5,1.11, 188.6,1.92, 189.6,2.55, 190.7,2.64, 191.5,4.71, 192,5.11, 192.8,3.09, 193.6,2.19, 194.8,1.47, 196.1,2.82, 196.9,1.3, 197.6,2.19, 198.4,2.77, 199.6,2.37, 200.6,2.0, 202.1,1.38, 203,0.84, 204.2,0, 205.3,0, 206.4,1.02, 207.4,0, 209.5,0, 210.2,3.09, 211,5.52, 211.8,3.09, 212.6,1.02, 213.9,0.84, 214.7,1.47, 215.9,2.19, 216.7,1.65, 217.2,2.0, 218,0, 218.8,0, 219.9,1.02, 221,0, 221.3,0, 222.3,1.02, 223.4,0.2, 224.5,1.02, 225.6,0, 227.2,0, 228.5,2.73, 229.8,4.8, 230.6,4.53, 231.4,3.45, 232.1,5.7, 233.2,2.19, 234,0, 238,0];

const panelData = [
  [n2A, h2oA, saltA],
  [n2B, h2oB, saltB],
  [n2C, h2oC, saltC],
  [n2D, h2oD, saltD],
  [n2E, h2oE, saltE],
];

const gridBoxes = [
  { left: 185, top: 59, width: 750, height: 559 },
  { left: 1110, top: 59, width: 750, height: 559 },
  { left: 2035, top: 59, width: 751, height: 559 },
  { left: 185, top: 728, width: 750, height: 560 },
  { left: 1110, top: 728, width: 750, height: 560 },
];
const tagPos = [[232, 102], [1146, 96], [2075, 102], [232, 778], [1151, 769]];

const toPairs = (flat: number[]) => {
  const out: number[][] = [];
  for (let i = 0; i < flat.length; i += 2) out.push([flat[i], flat[i + 1]]);
  return out;
};

const tickCommon = {
  axisLine: { show: true, lineStyle: { color: '#000', width: 3 } },
  axisTick: { show: true, inside: true, length: 9, lineStyle: { color: '#000', width: 2 } },
  minorTick: { show: true, splitNumber: 2, length: 9, lineStyle: { color: '#000', width: 2 } },
  splitLine: { show: false },
  minorSplitLine: { show: false },
  nameLocation: 'middle' as const,
  nameTextStyle: { color: '#000', fontSize: 41, fontFamily: FONT },
};

export default function App() {
  const chartRef = useRef<HTMLDivElement>(null);

  useEffect(() => {
    if (!chartRef.current) return;
    document.body.style.margin = '0';
    document.body.style.overflow = 'hidden';

    const chart = echarts.init(chartRef.current, undefined, { renderer: 'svg' });

    const series: any[] = [];
    panelData.forEach((group, p) => {
      group.forEach((flat, k) => {
        series.push({
          name: seriesNames[k],
          type: 'line',
          xAxisIndex: p,
          yAxisIndex: p,
          data: toPairs(flat),
          symbol: 'none',
          smooth: 0.2,
          lineStyle: { color: seriesColors[k], width: 3.5 },
          itemStyle: { color: seriesColors[k] },
          z: 2 + k,
        });
      });
    });

    const legendName = (name: string) => {
      if (name === 'N2') return '{m|N}{s|2}';
      if (name === 'H2O') return '{m|H}{s|2}{m|O}';
      return '{m|' + name + '}';
    };

    chart.setOption({
      animation: false,
      backgroundColor: '#ffffff',
      textStyle: { fontFamily: FONT },
      grid: gridBoxes.map((g) => ({
        ...g,
        show: true,
        borderColor: '#000',
        borderWidth: 3,
        containLabel: false,
      })),
      xAxis: gridBoxes.map((_, p) => ({
        ...tickCommon,
        type: 'value',
        gridIndex: p,
        min: 0,
        max: 250,
        interval: 50,
        name: 'Distance (Å)',
        nameGap: 58,
        axisLabel: { color: '#000', fontSize: 33, fontFamily: FONT, margin: 16 },
      })),
      yAxis: gridBoxes.map((_, p) => ({
        ...tickCommon,
        type: 'value',
        gridIndex: p,
        min: 0,
        max: 15,
        interval: yIntervals[p],
        name: 'Relative concentration',
        nameGap: 96,
        axisLabel: { color: '#000', fontSize: 33, fontFamily: FONT, margin: 14 },
      })),
      legend: {
        data: seriesNames,
        orient: 'vertical',
        left: 1676,
        top: 746,
        padding: 5,
        icon: 'rect',
        itemWidth: 65,
        itemHeight: 4,
        itemGap: 14,
        selectedMode: false,
        formatter: legendName,
        textStyle: {
          color: '#000',
          fontFamily: FONT,
          rich: {
            m: { fontSize: 29, fontFamily: FONT, color: '#000', lineHeight: 30, verticalAlign: 'top' },
            s: { fontSize: 19, fontFamily: FONT, color: '#000', lineHeight: 19, padding: [13, 0, 0, 0], verticalAlign: 'top' },
          },
        },
      },
      graphic: panelTags.map((tag, p) => ({
        type: 'text',
        left: tagPos[p][0],
        top: tagPos[p][1],
        z: 10,
        style: {
          text: '{m|' + tag + '}{s|' + panelSubs[p] + '}',
          fill: '#000',
          rich: {
            m: { fontSize: 38, fontFamily: FONT, fill: '#000', lineHeight: 38, verticalAlign: 'top' },
            s: { fontSize: 25, fontFamily: FONT, fill: '#000', lineHeight: 25, padding: [24, 0, 0, 1], verticalAlign: 'top' },
          },
        },
      })),
      series,
    });

    return () => {
      chart.dispose();
    };
  }, []);

  return <div ref={chartRef} style={{ width: 2865, height: 1424 }} />;
}
